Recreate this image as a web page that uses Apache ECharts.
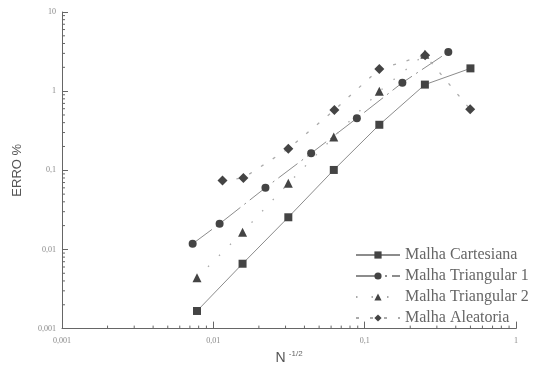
<!DOCTYPE html>
<html>
<head>
<meta charset="utf-8">
<script src="https://cdn.jsdelivr.net/npm/echarts@6/dist/echarts.min.js"></script>
<style>
    html, body { margin: 0; padding: 0; background: #fff; }
    #chart { width: 543px; height: 370px; }
</style>
</head>
<body>
<div id="chart"></div>
<script>
// N^-1/2 (x) e ERRO % (y) de cada malha
var xCart = [0.0078, 0.0156, 0.0313, 0.0625, 0.125, 0.25, 0.5];
var erroCart = [0.00167, 0.0066, 0.0255, 0.101, 0.376, 1.21, 1.94];
var xTri1 = [0.0073, 0.011, 0.0221, 0.0443, 0.0888, 0.1775, 0.357];
var erroTri1 = [0.0118, 0.0211, 0.0602, 0.164, 0.455, 1.28, 3.12];
var xTri2 = [0.0078, 0.0156, 0.0313, 0.0625, 0.125, 0.25];
var erroTri2 = [0.0044, 0.0165, 0.0684, 0.264, 0.994, 2.92];
var xAlea = [0.0115, 0.0158, 0.0313, 0.0631, 0.125, 0.251, 0.498];
var erroAlea = [0.0744, 0.0801, 0.1875, 0.577, 1.905, 2.84, 0.589];

var names = ['Malha Cartesiana', 'Malha Triangular 1', 'Malha Triangular 2', 'Malha Aleatoria'];

// marcas menores do eixo log (2..9 em cada decada)
var minorSteps = [2, 3, 4, 5, 6, 7, 8, 9];
var xDecades = [0.001, 0.01, 0.1];
var yDecades = [0.001, 0.01, 0.1, 1];

function pairs(xs, ys) {
    var out = [];
    for (var i = 0; i < xs.length; i++) {
        out.push([xs[i], ys[i]]);
    }
    return out;
}

var minorData = [];
for (var i = 0; i < xDecades.length; i++) {
    for (var j = 0; j < minorSteps.length; j++) {
        minorData.push([xDecades[i] * minorSteps[j], 0.001, 0]);
    }
}
for (var i = 0; i < yDecades.length; i++) {
    for (var j = 0; j < minorSteps.length; j++) {
        minorData.push([0.001, yDecades[i] * minorSteps[j], 1]);
    }
}

function fmt(v) {
    return String(+(+v).toPrecision(3)).replace('.', ',');
}

var lineGray = '#8c8c8c';
var markGray = '#444';
var serif = '"Liberation Serif", "DejaVu Serif", serif';

var myCharts = echarts.init(document.getElementById('chart'), null, { renderer: 'canvas' });

var option = {
    backgroundColor: '#fff',
    animation: false,
    grid: {
        left: 62,
        right: 27,
        top: 12,
        bottom: 36
    },
    legend: {
        orient: 'vertical',
        left: 350,
        top: 242,
        itemWidth: 44,
        itemHeight: 9,
        itemGap: 5,
        textStyle: {
            fontFamily: serif,
            fontSize: 16,
            color: '#666'
        },
        data: names
    },
    xAxis: {
        type: 'log',
        logBase: 10,
        min: 0.001,
        max: 1,
        name: '{n|N} {s|-1/2}',
        nameLocation: 'middle',
        nameGap: 19,
        nameTextStyle: {
            rich: {
                n: { fontFamily: 'Liberation Sans', fontSize: 14, color: '#555' },
                s: { fontFamily: 'Liberation Sans', fontSize: 8, color: '#666', padding: [0, 0, 9, 0] }
            }
        },
        axisLine: { lineStyle: { color: '#666', width: 1 } },
        axisTick: { inside: true, length: 7, lineStyle: { color: '#666' } },
        axisLabel: {
            fontFamily: serif,
            fontSize: 8,
            color: '#888',
            margin: 8,
            formatter: fmt
        },
        splitLine: { show: false }
    },
    yAxis: {
        type: 'log',
        logBase: 10,
        min: 0.001,
        max: 10,
        name: 'ERRO %',
        nameLocation: 'middle',
        nameGap: 38,
        nameTextStyle: {
            fontFamily: 'Liberation Sans',
            fontSize: 13,
            color: '#555'
        },
        axisLine: { lineStyle: { color: '#666', width: 1 } },
        axisTick: { inside: true, length: 6, lineStyle: { color: '#666' } },
        axisLabel: {
            fontFamily: serif,
            fontSize: 8,
            color: '#888',
            margin: 6,
            formatter: fmt
        },
        splitLine: { show: false }
    },
    series: [{
        name: names[0],
        type: 'line',
        symbol: 'rect',
        symbolSize: 8,
        itemStyle: { color: markGray },
        lineStyle: { color: lineGray, width: 1, type: 'solid' },
        data: pairs(xCart, erroCart)
    }, {
        name: names[1],
        type: 'line',
        symbol: 'circle',
        symbolSize: 8,
        itemStyle: { color: markGray },
        lineStyle: { color: lineGray, width: 1, type: [24, 5, 2, 5] },
        data: pairs(xTri1, erroTri1)
    }, {
        name: names[2],
        type: 'line',
        symbol: 'triangle',
        symbolSize: 9,
        itemStyle: { color: markGray },
        lineStyle: { color: '#aaa', width: 1.3, type: [1.5, 14] },
        data: pairs(xTri2, erroTri2)
    }, {
        name: names[3],
        type: 'line',
        symbol: 'diamond',
        symbolSize: 10,
        itemStyle: { color: markGray },
        lineStyle: { color: '#aaa', width: 1.3, type: [3, 11] },
        data: pairs(xAlea, erroAlea)
    }, {
        // marcas menores dos eixos
        type: 'custom',
        silent: true,
        clip: false,
        legendHoverLink: false,
        renderItem: function (params, api) {
            var p = api.coord([api.value(0), api.value(1)]);
            var isY = api.value(2) === 1;
            return {
                type: 'line',
                shape: isY
                    ? { x1: p[0], y1: p[1], x2: p[0] + 3, y2: p[1] }
                    : { x1: p[0], y1: p[1], x2: p[0], y2: p[1] - 3 },
                style: { stroke: '#666', lineWidth: 1 }
            };
        },
        data: minorData
    }]
};

myCharts.setOption(option);
</script>
</body>
</html>
